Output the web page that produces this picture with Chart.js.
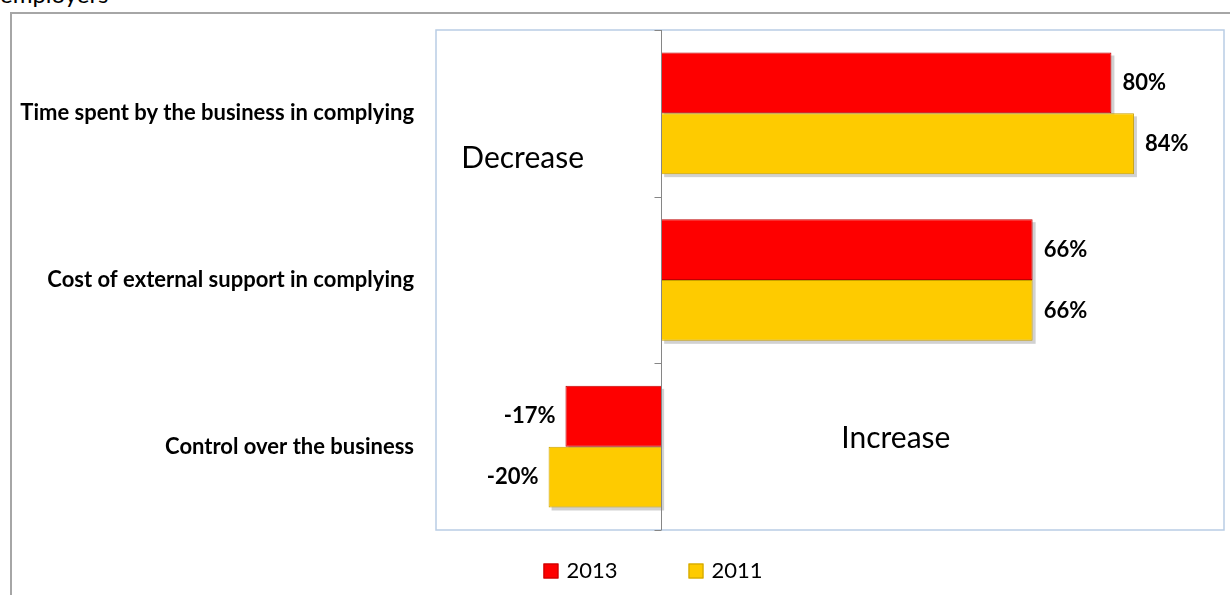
<!DOCTYPE html>
<html>
<head>
<meta charset="utf-8">
<script src="https://cdn.jsdelivr.net/npm/chart.js@4.4.1/dist/chart.umd.min.js"></script>
<style>
  html, body { margin: 0; padding: 0; background: #fff; overflow: hidden; }
  #wrap { position: relative; width: 1230px; height: 595px; }
  #frame { position: absolute; left: 10px; top: 12px; width: 1240px; height: 600px;
    border-left: 2px solid #a6a6a6; border-top: 2px solid #a6a6a6; }
  #cut { position: absolute; left: 0; top: -21px; font: 24px Lato, sans-serif; color: #000; }
  canvas { position: absolute; left: 0; top: 0; }
</style>
</head>
<body>
<div id="wrap">
  <div id="frame"></div>
  <div id="cut">employers</div>
  <canvas id="chart" width="1230" height="595"></canvas>
</div>
<script>
// данные с картинки
const categories = [
  'Time spent by the business in complying',
  'Cost of external support in complying',
  'Control over the business'
];
const seriesNames = ['2013', '2011'];
const values2013 = [80, 66, -17];
const values2011 = [84, 66, -20];
const seriesColors = ['#fe0000', '#fecb00'];
const seriesBorders = ['#c00000', '#c9a000'];

// надписи внутри области графика (в координатах шкал)
const notes = [
  { text: 'Decrease', x: -35.5, y: 0.27 },
  { text: 'Increase', x: 32, y: 1.95 }
];

const frameAndAxis = {
  id: 'frameAndAxis',
  beforeDraw(chart) {
    const { ctx, chartArea: a } = chart;
    ctx.save();
    ctx.strokeStyle = '#b9cde5';
    ctx.lineWidth = 1.5;
    ctx.strokeRect(a.left, a.top, a.right - a.left, a.bottom - a.top);
    ctx.restore();
  },
  beforeDatasetsDraw(chart) {
    // тень под столбиками
    const ctx = chart.ctx;
    ctx.save();
    ctx.fillStyle = 'rgba(0,0,0,0.18)';
    chart.data.datasets.forEach((ds, di) => {
      chart.getDatasetMeta(di).data.forEach(bar => {
        const l = Math.min(bar.x, bar.base), r = Math.max(bar.x, bar.base);
        ctx.fillRect(l + 3, bar.y - bar.height / 2 + 3, r - l, bar.height);
      });
    });
    ctx.restore();
  },
  afterDatasetsDraw(chart) {
    const { ctx, chartArea: a, scales: { x, y } } = chart;
    const x0 = Math.round(x.getPixelForValue(0)) + 0.5;
    ctx.save();
    ctx.strokeStyle = '#868686';
    ctx.lineWidth = 1;
    ctx.beginPath();
    ctx.moveTo(x0, a.top);
    ctx.lineTo(x0, a.bottom);
    const step = (a.bottom - a.top) / categories.length;
    for (let i = 0; i <= categories.length; i++) {
      const yy = Math.round(a.top + i * step) + 0.5;
      ctx.moveTo(x0 - 7, yy);
      ctx.lineTo(x0, yy);
    }
    ctx.stroke();

    // подписи значений
    ctx.fillStyle = '#000';
    ctx.font = 'bold 22px Lato, sans-serif';
    ctx.textBaseline = 'middle';
    chart.data.datasets.forEach((ds, di) => {
      chart.getDatasetMeta(di).data.forEach((bar, i) => {
        const v = ds.data[i];
        ctx.textAlign = v < 0 ? 'right' : 'left';
        ctx.fillText(v + '%', bar.x + (v < 0 ? -10 : 11), bar.y);
      });
    });

    // Decrease / Increase
    ctx.font = '30px Lato, sans-serif';
    ctx.textAlign = 'left';
    notes.forEach(n => {
      ctx.fillText(n.text, x.getPixelForValue(n.x), y.getPixelForValue(n.y));
    });

    // легенда снизу
    ctx.font = '22px Lato, sans-serif';
    const box = 15, gap = 8, itemGap = 71;
    const items = chart.data.datasets.map(ds => ({ label: ds.label, color: ds.backgroundColor, border: ds.borderColor, w: ctx.measureText(ds.label).width }));
    const total = items.reduce((s, it) => s + box + gap + it.w, 0) + itemGap * (items.length - 1);
    let lx = 653 - total / 2;
    const ly = 571;
    items.forEach(it => {
      ctx.fillStyle = it.color;
      ctx.fillRect(lx, ly - box / 2, box, box);
      ctx.strokeStyle = it.border;
      ctx.strokeRect(lx + 0.5, ly - box / 2 + 0.5, box - 1, box - 1);
      ctx.fillStyle = '#000';
      ctx.fillText(it.label, lx + box + gap, ly);
      lx += box + gap + it.w + itemGap;
    });
    ctx.restore();
  }
};

new Chart(document.getElementById('chart').getContext('2d'), {
  type: 'bar',
  data: {
    labels: categories,
    datasets: [
      { label: seriesNames[0], data: values2013, backgroundColor: seriesColors[0], borderColor: seriesBorders[0], borderWidth: 1 },
      { label: seriesNames[1], data: values2011, backgroundColor: seriesColors[1], borderColor: seriesBorders[1], borderWidth: 1 }
    ]
  },
  options: {
    indexAxis: 'y',
    responsive: false,
    animation: false,
    devicePixelRatio: 1,
    categoryPercentage: 0.73,
    barPercentage: 1.0,
    layout: { padding: { top: 30, right: 6, bottom: 65, left: 0 } },
    plugins: { legend: { display: false }, tooltip: { enabled: false } },
    scales: {
      x: { min: -40, max: 100, display: false },
      y: {
        grid: { display: false, drawTicks: false },
        border: { display: false },
        ticks: { color: '#000', padding: 22, font: { family: 'Lato', weight: 'bold', size: 22 } },
        afterFit(scale) {
          scale.width = 436;
          scale.paddingTop = 0;
          scale.paddingBottom = 0;
        }
      }
    }
  },
  plugins: [frameAndAxis]
});
</script>
</body>
</html>
